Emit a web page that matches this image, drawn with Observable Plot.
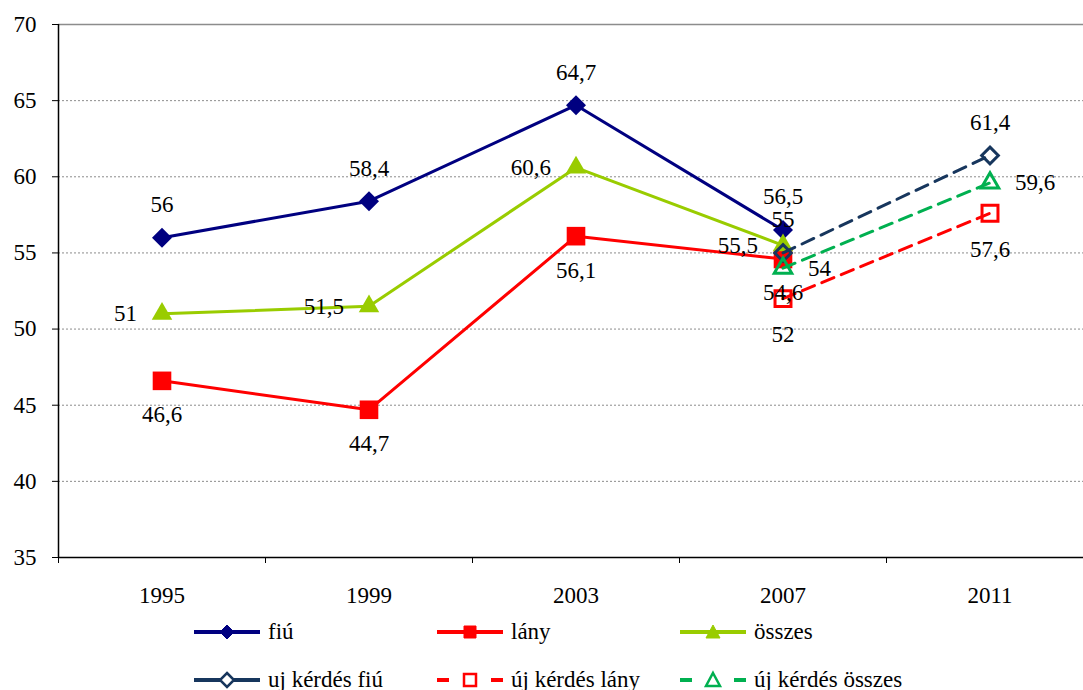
<!DOCTYPE html>
<html>
<head>
<meta charset="utf-8">
<script src="https://cdn.jsdelivr.net/npm/d3@7"></script>
<script src="https://cdn.jsdelivr.net/npm/@observablehq/plot@0.6"></script>
<style>
  html, body { margin: 0; padding: 0; background: #fff; overflow: hidden; }
  #wrap { position: relative; width: 1083px; height: 690px; font-family: "Liberation Serif", serif; }
  #chart svg { display: block; }
  #chart svg, #chart svg text { font-family: "Liberation Serif", serif !important; }
  .leg { position: absolute; height: 26px; display: flex; align-items: center; font-size: 23px; color: #000; white-space: nowrap; }
  .leg svg { margin-right: 6px; }
</style>
</head>
<body>
<div id="wrap">
  <div id="chart"></div>
  <div id="legend"></div>
</div>
<script>
// ---- data ----
const years = [1995, 1999, 2003, 2007];
const fiu = [56, 58.4, 64.7, 56.5];
const lany = [46.6, 44.7, 56.1, 54.6];
const osszes = [51, 51.5, 60.6, 55.5];
const newYears = [2007, 2011];
const ujFiu = [55, 61.4];
const ujLany = [52, 57.6];
const ujOsszes = [54, 59.6];
const xTickLabels = [1995, 1999, 2003, 2007, 2011];
const xBoundaries = [1993, 1997, 2001, 2005, 2009, 2013];
const yTicks = [35, 40, 45, 50, 55, 60, 65, 70];
const seriesNames = ["fiú", "lány", "összes", "uj kérdés fiú", "új kérdés lány", "új kérdés összes"];

const toRows = (xs, vs) => xs.map((x, i) => ({x, v: vs[i]}));
const dFiu = toRows(years, fiu);
const dLany = toRows(years, lany);
const dOsszes = toRows(years, osszes);
const dUjFiu = toRows(newYears, ujFiu);
const dUjLany = toRows(newYears, ujLany);
const dUjOsszes = toRows(newYears, ujOsszes);

const FF = "Liberation Serif";
const FS = 23;
const fmt = d => String(d.v).replace(".", ",");
const C = {fiu: "#000080", lany: "#FF0000", osszes: "#99CC00", ujFiu: "#17365D", ujLany: "#FF0000", ujOsszes: "#00B050"};
const dash = "13,8";
const T = {fontSize: FS, fontFamily: FF, fill: "#000"};

const chart = Plot.plot({
  width: 1083,
  height: 610,
  marginLeft: 58,
  marginRight: -10,
  marginTop: 24,
  marginBottom: 53,
  style: {fontFamily: FF, fontSize: FS + "px", color: "#000", background: "#fff"},
  x: {domain: [1993, 2013]},
  y: {domain: [35, 70]},
  marks: [
    Plot.ruleY(yTicks.filter(t => t > 35 && t < 70), {y: d => d, stroke: "#8c8c8c", strokeWidth: 1, strokeDasharray: "2,2"}),
    Plot.ruleY([70], {stroke: "#8c8c8c", strokeWidth: 1.5}),
    Plot.axisY({ticks: yTicks, tickSize: 6, tickPadding: 16, tickFormat: d => d, label: null, fontSize: FS, fontFamily: FF, stroke: "#000"}),
    Plot.axisX({ticks: xTickLabels, tickSize: 0, tickPadding: 29, tickFormat: d => String(d), label: null, fontSize: FS, fontFamily: FF}),
    Plot.axisX({ticks: xBoundaries, tickSize: 6, tickFormat: () => "", label: null, stroke: "#000"}),
    Plot.ruleX([1993], {stroke: "#000", strokeWidth: 1.5}),
    Plot.ruleY([35], {stroke: "#000", strokeWidth: 1.5}),

    Plot.line(dFiu, {x: "x", y: "v", stroke: C.fiu, strokeWidth: 3}),
    Plot.line(dLany, {x: "x", y: "v", stroke: C.lany, strokeWidth: 3}),
    Plot.line(dOsszes, {x: "x", y: "v", stroke: C.osszes, strokeWidth: 3}),
    Plot.dot(dFiu, {x: "x", y: "v", symbol: "diamond2", r: 9, fill: C.fiu, stroke: "none"}),
    Plot.dot(dLany, {x: "x", y: "v", symbol: "square", r: 10.5, fill: C.lany, stroke: "none"}),
    Plot.dot(dOsszes, {x: "x", y: "v", symbol: "triangle", r: 7.6, fill: C.osszes, stroke: "none"}),

    Plot.line(dUjFiu, {x: "x", y: "v", stroke: C.ujFiu, strokeWidth: 3, strokeDasharray: dash}),
    Plot.line(dUjLany, {x: "x", y: "v", stroke: C.ujLany, strokeWidth: 3, strokeDasharray: dash}),
    Plot.line(dUjOsszes, {x: "x", y: "v", stroke: C.ujOsszes, strokeWidth: 3, strokeDasharray: dash}),
    Plot.dot(dUjFiu, {x: "x", y: "v", symbol: "diamond2", r: 7.5, fill: "none", stroke: C.ujFiu, strokeWidth: 3}),
    Plot.dot(dUjLany, {x: "x", y: "v", symbol: "square", r: 9, fill: "none", stroke: C.ujLany, strokeWidth: 3}),
    Plot.dot(dUjOsszes, {x: "x", y: "v", symbol: "triangle", r: 6.5, fill: "none", stroke: C.ujOsszes, strokeWidth: 3}),

    Plot.text(dFiu, {x: "x", y: "v", text: fmt, dy: -33, ...T}),
    Plot.text(dLany, {x: "x", y: "v", text: fmt, dy: 34, ...T}),
    Plot.text(dOsszes, {x: "x", y: "v", text: fmt, dx: -25, textAnchor: "end", ...T}),
    Plot.text(dUjFiu, {x: "x", y: "v", text: fmt, dy: -33, ...T}),
    Plot.text(dUjLany, {x: "x", y: "v", text: fmt, dy: 36, ...T}),
    Plot.text(dUjOsszes, {x: "x", y: "v", text: fmt, dx: 25, textAnchor: "start", ...T})
  ]
});
document.getElementById("chart").appendChild(chart);

// ---- legend ----
const legendItems = [
  {name: seriesNames[0], color: C.fiu, sym: "diamond", filled: true, dashed: false, col: 0, row: 0},
  {name: seriesNames[1], color: C.lany, sym: "square", filled: true, dashed: false, col: 1, row: 0},
  {name: seriesNames[2], color: C.osszes, sym: "triangle", filled: true, dashed: false, col: 2, row: 0},
  {name: seriesNames[3], color: C.ujFiu, sym: "diamond", filled: false, dashed: false, col: 0, row: 1},
  {name: seriesNames[4], color: C.ujLany, sym: "square", filled: false, dashed: true, col: 1, row: 1},
  {name: seriesNames[5], color: C.ujOsszes, sym: "triangle", filled: false, dashed: true, col: 2, row: 1}
];
const colX = [192, 435, 678];
const rowY = [632, 680];
const legend = document.getElementById("legend");
for (const it of legendItems) {
  const div = document.createElement("div");
  div.className = "leg";
  div.style.left = colX[it.col] + "px";
  div.style.top = (rowY[it.row] - 13) + "px";
  const ns = "http://www.w3.org/2000/svg";
  const s = document.createElementNS(ns, "svg");
  s.setAttribute("width", 70); s.setAttribute("height", 24);
  const line = document.createElementNS(ns, "path");
  if (it.dashed) line.setAttribute("d", "M2,12H14M56,12H68");
  else line.setAttribute("d", "M2,12H68");
  line.setAttribute("stroke", it.color); line.setAttribute("stroke-width", 4); line.setAttribute("fill", "none");
  s.appendChild(line);
  const m = document.createElementNS(ns, "path");
  let d;
  if (it.sym === "diamond") d = "M35,5L42,12L35,19L28,12Z";
  else if (it.sym === "square") d = "M29,6H41V18H29Z";
  else d = "M35,5L42,18H28Z";
  m.setAttribute("d", d);
  m.setAttribute("fill", it.filled ? it.color : "#fff");
  m.setAttribute("stroke", it.color);
  m.setAttribute("stroke-width", it.filled ? 1 : 2.5);
  s.appendChild(m);
  div.appendChild(s);
  div.appendChild(document.createTextNode(it.name));
  legend.appendChild(div);
}
</script>
</body>
</html>
